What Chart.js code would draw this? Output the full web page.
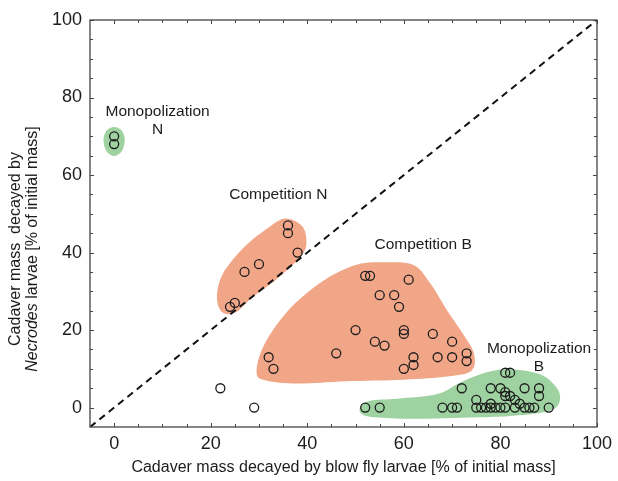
<!DOCTYPE html>
<html>
<head>
<meta charset="utf-8">
<script src="https://cdn.jsdelivr.net/npm/chart.js@4.4.1/dist/chart.umd.min.js"></script>
<style>
  html, body { margin: 0; padding: 0; background: #fff; }
</style>
</head>
<body>
<canvas id="chart" width="618" height="481"></canvas>
<script>
const xTicks = [0, 20, 40, 60, 80, 100];
const yTicks = [0, 20, 40, 60, 80, 100];

// measured points [blow fly %, Necrodes %]
const monopolizationN = [[0, 70], [0, 68]];
const competitionN = [[36, 47], [36, 45], [38, 40], [30, 37], [27, 35], [25, 27], [24, 26]];
const competitionB = [
	[32, 13], [33, 10], [46, 14], [50, 20], [52, 34], [53, 34], [55, 29], [54, 17], [56, 16],
	[58, 29], [59, 26], [61, 33], [60, 20], [60, 19], [60, 10], [62, 13], [62, 11], [66, 19],
	[67, 13], [70, 17], [70, 13], [73, 14], [73, 12]
];
const monopolizationB = [
	[52, 0], [55, 0], [68, 0], [70, 0], [71, 0], [72, 5], [75, 2], [75, 0], [76, 0], [77, 0],
	[78, 5], [78, 1], [78, 0], [79, 0], [80, 5], [80, 0], [81, 9], [82, 9], [81, 4], [81, 3],
	[81, 0], [82, 3], [83, 2], [84, 1], [83, 0], [85, 5], [85, 0], [86, 0], [87, 0], [88, 5],
	[88, 3], [90, 0]
];
const ungrouped = [[22, 5], [29, 0]];

// shaded group outlines, data units
const blobMonoN = [[0, 72.4], [1.6, 71.4], [2.2, 69], [1.6, 66.2], [0, 64.9], [-1.6, 66.2], [-2.2, 69], [-1.6, 71.4]];
const blobCompN = [[35.5, 48.8], [38.8, 47], [39.8, 43.5], [39, 39.5], [34, 33.5], [28.6, 28.4], [25.2, 24.6], [22.4, 24.6], [21.3, 28.5], [22.5, 34.5], [27, 41.5], [32, 46.5]];
const blobCompB = [[29.5, 9], [31, 16], [36, 25], [43, 32.5], [50, 36.8], [56, 37.5], [62, 36.8], [65.5, 32], [69, 25], [72, 19.5], [74.5, 14], [74, 9.5], [69, 8], [60, 7.2], [48, 6.8], [38, 6.2], [31.5, 7]];
const blobMonoB = [[51, 0.2], [53, 1.8], [58.7, 2.3], [66.9, 3.5], [71.7, 6.5], [77.2, 9.1], [82, 9.9], [88.2, 8.6], [91.6, 5.2], [92.3, 1.8], [90.2, -0.8], [82.7, -2.1], [75.8, -2.5], [62.1, -2.9], [53.9, -2.5], [51.2, -1.6]];

const notes = [
	{ text: "Monopolization", x: 9, y: 76.3 },
	{ text: "N", x: 9, y: 71.6 },
	{ text: "Competition N", x: 34, y: 55 },
	{ text: "Competition B", x: 64, y: 42 },
	{ text: "Monopolization", x: 88, y: 15.2 },
	{ text: "B", x: 88, y: 10.5 }
];

const fontFamily = 'Arial, "Liberation Sans", Helvetica, sans-serif';
const salmon = "rgb(242, 166, 136)";
const green = "rgb(158, 210, 160)";
const ink = "#1c1c1c";

const toXY = (arr) => arr.map((p) => ({ x: p[0], y: p[1] }));

function closedSpline(ctx, pts) {
	const n = pts.length;
	ctx.moveTo(pts[0][0], pts[0][1]);
	for (let i = 0; i < n; i++) {
		const p0 = pts[(i - 1 + n) % n], p1 = pts[i], p2 = pts[(i + 1) % n], p3 = pts[(i + 2) % n];
		ctx.bezierCurveTo(
			p1[0] + (p2[0] - p0[0]) / 6, p1[1] + (p2[1] - p0[1]) / 6,
			p2[0] - (p3[0] - p1[0]) / 6, p2[1] - (p3[1] - p1[1]) / 6,
			p2[0], p2[1]
		);
	}
	ctx.closePath();
}

const blobPlugin = {
	id: "blobs",
	beforeDatasetsDraw(chart) {
		const { ctx, chartArea, scales } = chart;
		const groups = [[blobMonoN, green], [blobCompN, salmon], [blobCompB, salmon], [blobMonoB, green]];
		ctx.save();
		ctx.beginPath();
		ctx.rect(chartArea.left, chartArea.top, chartArea.right - chartArea.left, chartArea.bottom - chartArea.top);
		ctx.clip();
		groups.forEach(([outline, color]) => {
			const pts = outline.map((p) => [scales.x.getPixelForValue(p[0]), scales.y.getPixelForValue(p[1])]);
			ctx.beginPath();
			closedSpline(ctx, pts);
			ctx.fillStyle = color;
			ctx.fill();
		});
		ctx.restore();
	},
	afterDatasetsDraw(chart) {
		const { ctx, scales } = chart;
		ctx.save();
		ctx.font = "15.5px " + fontFamily;
		ctx.fillStyle = ink;
		ctx.textAlign = "center";
		ctx.textBaseline = "middle";
		notes.forEach((n) => {
			ctx.fillText(n.text, scales.x.getPixelForValue(n.x), scales.y.getPixelForValue(n.y));
		});
		ctx.restore();
	}
};

const framePlugin = {
	id: "frame",
	afterDraw(chart) {
		const { ctx, chartArea: a, scales } = chart;
		ctx.save();
		ctx.strokeStyle = "#444";
		ctx.lineWidth = 1.3;
		ctx.strokeRect(a.left, a.top, a.right - a.left, a.bottom - a.top);
		ctx.lineWidth = 1;
		ctx.beginPath();
		for (let v = 0; v <= 100; v += 5) {
			const len = v % 20 === 0 ? 4 : 3;
			const x = Math.round(scales.x.getPixelForValue(v)) + 0.5;
			const y = Math.round(scales.y.getPixelForValue(v)) + 0.5;
			ctx.moveTo(x, a.bottom); ctx.lineTo(x, a.bottom - len);
			ctx.moveTo(x, a.top); ctx.lineTo(x, a.top + len);
			ctx.moveTo(a.left, y); ctx.lineTo(a.left + len, y);
			ctx.moveTo(a.right, y); ctx.lineTo(a.right - len, y);
		}
		ctx.stroke();

		// y title, two lines with italic genus name
		const cy = 249;
		ctx.fillStyle = ink;
		ctx.textBaseline = "middle";
		ctx.translate(16, cy);
		ctx.rotate(-Math.PI / 2);
		ctx.font = "16px " + fontFamily;
		ctx.textAlign = "center";
		ctx.fillText("Cadaver mass  decayed by", 0, 0);
		const it = "Necrodes", rest = " larvae [% of initial mass]";
		ctx.font = "italic 16px " + fontFamily;
		const w1 = ctx.measureText(it).width;
		ctx.font = "16px " + fontFamily;
		const w2 = ctx.measureText(rest).width;
		const start = -(w1 + w2) / 2;
		ctx.textAlign = "left";
		ctx.font = "italic 16px " + fontFamily;
		ctx.fillText(it, start, 17);
		ctx.font = "16px " + fontFamily;
		ctx.fillText(rest, start + w1, 17);
		ctx.restore();
	}
};

const pointStyle = {
	type: "scatter",
	pointStyle: "circle",
	pointRadius: 4.5,
	pointBorderWidth: 1.3,
	pointBorderColor: ink,
	pointBackgroundColor: "rgba(0,0,0,0)",
	showLine: false
};

new Chart(document.getElementById("chart"), {
	data: {
		datasets: [
			{
				type: "line",
				label: "1:1",
				data: [{ x: -5, y: -5 }, { x: 100, y: 100 }],
				borderColor: "#111",
				borderWidth: 2,
				borderDash: [7, 5],
				pointRadius: 0,
				fill: false
			},
			Object.assign({ label: "Monopolization N", data: toXY(monopolizationN) }, pointStyle),
			Object.assign({ label: "Competition N", data: toXY(competitionN) }, pointStyle),
			Object.assign({ label: "Competition B", data: toXY(competitionB) }, pointStyle),
			Object.assign({ label: "Monopolization B", data: toXY(monopolizationB) }, pointStyle),
			Object.assign({ label: "Other", data: toXY(ungrouped) }, pointStyle)
		]
	},
	options: {
		responsive: false,
		animation: false,
		devicePixelRatio: 1,
		layout: { padding: { top: 20, right: 18, left: 0, bottom: 0 } },
		plugins: { legend: { display: false }, tooltip: { enabled: false } },
		scales: {
			x: {
				type: "linear",
				min: -5,
				max: 100,
				grid: { display: false, drawTicks: false },
				border: { display: false },
				afterBuildTicks: (s) => { s.ticks = xTicks.map((v) => ({ value: v })); },
				afterFit: (s) => { s.height = 54; },
				ticks: { font: { size: 18, family: fontFamily }, color: ink, padding: 6 },
				title: {
					display: true,
					text: "Cadaver mass decayed by blow fly larvae [% of initial mass]",
					font: { size: 16, family: fontFamily },
					color: ink,
					padding: { top: 4, bottom: 4 }
				}
			},
			y: {
				type: "linear",
				min: -5,
				max: 100,
				grid: { display: false, drawTicks: false },
				border: { display: false },
				afterBuildTicks: (s) => { s.ticks = yTicks.map((v) => ({ value: v })); },
				afterFit: (s) => { s.width = 90; },
				ticks: { font: { size: 18, family: fontFamily }, color: ink, padding: 8 }
			}
		}
	},
	plugins: [blobPlugin, framePlugin]
});
</script>
</body>
</html>
